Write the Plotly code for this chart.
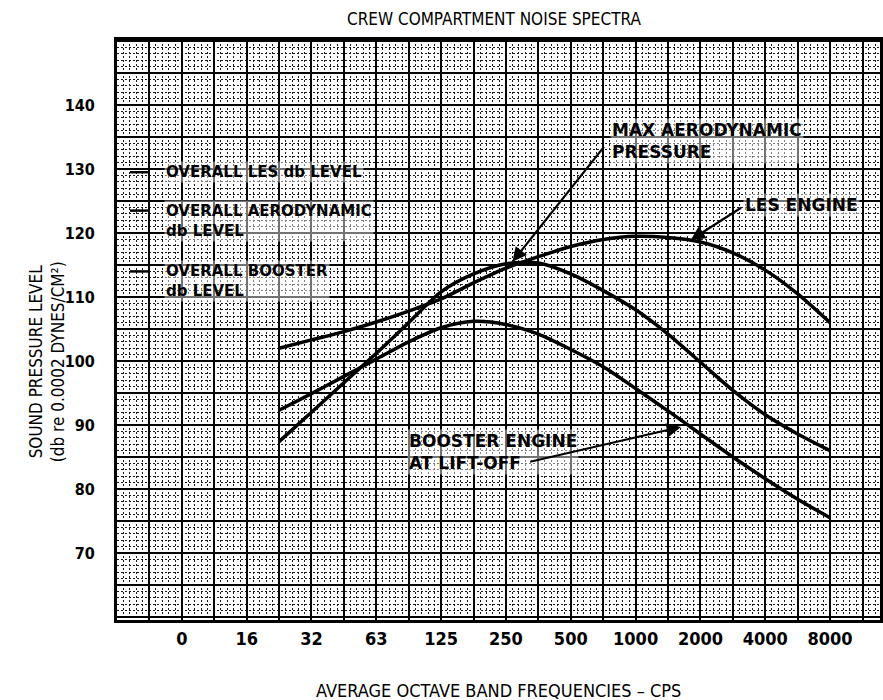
import plotly.graph_objects as go

# Octave-band positions (index along the frequency axis) and labels
band_pos = [0, 1, 2, 3, 4, 5, 6, 7, 8, 9, 10]
band_labels = ["0", "16", "32", "63", "125", "250", "500", "1000", "2000", "4000", "8000"]

# Sampled positions for the spectra (half-octave steps)
pos = [1.5, 2.0, 2.5, 3.0, 3.5, 4.0, 4.5, 5.0, 5.5, 6.0, 6.5, 7.0, 7.5, 8.0, 8.5, 9.0, 9.5, 10.0]

les_engine = [102.0, 103.3, 104.6, 106.1, 107.8, 109.7, 112.2, 114.5, 116.3, 117.9, 119.0, 119.5, 119.3, 118.6, 116.9, 114.2, 110.5, 106.0]
max_aero = [87.4, 92.0, 96.6, 101.2, 106.0, 110.8, 113.6, 115.2, 115.3, 113.6, 111.0, 108.0, 104.2, 99.8, 95.4, 91.6, 88.6, 86.0]
booster = [92.3, 94.9, 97.6, 100.3, 103.0, 105.2, 106.2, 105.7, 104.2, 101.8, 99.1, 95.7, 92.2, 88.6, 85.0, 81.6, 78.4, 75.5]

# Overall levels marked on the left edge
overall_levels = [129.5, 123.5, 114.0]
overall_labels = ["OVERALL LES db LEVEL", "OVERALL AERODYNAMIC<br>db LEVEL", "OVERALL BOOSTER<br>db LEVEL"]

y_ticks = [70, 80, 90, 100, 110, 120, 130, 140]

NARROW = "Liberation Sans Narrow, DejaVu Sans Condensed, Arial Narrow, sans-serif"
BOLD = "DejaVu Sans, Verdana, sans-serif"

fig = go.Figure()

for series in (les_engine, max_aero, booster):
    fig.add_trace(go.Scatter(
        x=pos, y=series, mode="lines",
        line=dict(color="black", width=3.5, shape="spline", smoothing=0.8),
        hoverinfo="skip", showlegend=False,
    ))

# Short marks for the overall levels
for lvl in overall_levels:
    fig.add_trace(go.Scatter(
        x=[-0.8, -0.5], y=[lvl, lvl], mode="lines",
        line=dict(color="black", width=2.5),
        hoverinfo="skip", showlegend=False,
    ))

# Grid: heavy lines every half octave / 5 dB, dotted fine lines between
x_major = [-1 + 0.5 * i for i in range(24)]
x_text = []
for v in x_major:
    if abs(v - round(v)) < 1e-9 and 0 <= round(v) <= 10:
        x_text.append(band_labels[band_pos.index(int(round(v)))])
    else:
        x_text.append("")

y_major = list(range(60, 151, 5))
y_text = [str(v) if v in y_ticks else "" for v in y_major]

minor_dash = "2px,2px"

fig.update_xaxes(
    range=[-1.0, 10.77], tickmode="array", tickvals=x_major, ticktext=x_text,
    showgrid=True, gridcolor="black", gridwidth=2,
    minor=dict(dtick=0.1, tick0=-1, showgrid=True, gridcolor="#1a1a1a", gridwidth=1, griddash=minor_dash),
    showline=True, linecolor="black", linewidth=3, mirror=True,
    ticks="", ticklabelstandoff=0, zeroline=False,
    tickfont=dict(family=NARROW, size=18, color="black", weight="bold"),
)
fig.update_yaxes(
    range=[59.53, 150.16], tickmode="array", tickvals=y_major, ticktext=y_text,
    showgrid=True, gridcolor="black", gridwidth=2,
    minor=dict(dtick=1, tick0=60, showgrid=True, gridcolor="#1a1a1a", gridwidth=1, griddash=minor_dash),
    showline=True, linecolor="black", linewidth=3, mirror=True,
    ticks="", ticklabelstandoff=16, zeroline=False,
    tickfont=dict(family=NARROW, size=16, color="black", weight="bold"),
)

annotations = []
overall_font = dict(family=BOLD, size=15, color="black", weight="bold")
curve_font = dict(family=BOLD, size=17, color="black", weight="bold")

for lvl, txt in zip(overall_levels, overall_labels):
    annotations.append(dict(
        x=-0.27, y=lvl, xref="x", yref="y", text=txt,
        showarrow=False, xanchor="left", yanchor="top", yshift=11, align="left",
        font=overall_font, bgcolor="rgba(255,255,255,0.45)",
    ))

# Curve labels with arrows
labels = [
    ("MAX AERODYNAMIC<br>PRESSURE", 6.6, 136.1, 5.1, 115.5, 6.53, 133.7),
    ("LES ENGINE", 8.65, 124.4, 7.85, 118.9, 8.65, 124.1),
    ("BOOSTER ENGINE<br>AT LIFT-OFF", 3.47, 87.5, 7.7, 89.7, 5.35, 84.2),
]
for txt, tx, ty, hx, hy, ax, ay in labels:
    annotations.append(dict(
        x=tx, y=ty, xref="x", yref="y", text=txt,
        showarrow=False, xanchor="left", yanchor="top", yshift=12, align="left",
        font=curve_font, bgcolor="rgba(255,255,255,0.45)",
    ))
    annotations.append(dict(
        x=hx, y=hy, xref="x", yref="y", ax=ax, ay=ay, axref="x", ayref="y",
        text="", showarrow=True, arrowhead=2, arrowsize=1.3, arrowwidth=2.2,
        arrowcolor="black",
    ))

# Titles, positioned in pixels from the top-left corner of the page
L, R, T, B = 117, 0, 40, 80
W, H = 883, 700
pw, ph = W - L - R, H - T - B


def px(xp, yp):
    return (xp - L) / pw, (H - B - yp) / ph


title_specs = [
    ("CREW COMPARTMENT NOISE SPECTRA", 495, 19, 0, 17),
    ("AVERAGE OCTAVE BAND FREQUENCIES – CPS", 500, 690, 0, 18),
    ("SOUND PRESSURE LEVEL<br>(db re 0.0002 DYNES/CM²)", 47, 362, -90, 17),
]
for txt, xp, yp, ang, size in title_specs:
    fx, fy = px(xp, yp)
    annotations.append(dict(
        x=fx, y=fy, xref="paper", yref="paper", text=txt, textangle=ang,
        xanchor="center", yanchor="middle", showarrow=False,
        font=dict(family=NARROW, size=size, color="black"),
    ))

fig.update_layout(
    width=W, height=H,
    margin=dict(l=L, r=R, t=T, b=B),
    paper_bgcolor="white", plot_bgcolor="white",
    annotations=annotations, showlegend=False,
)

fig.write_html("out.html")
